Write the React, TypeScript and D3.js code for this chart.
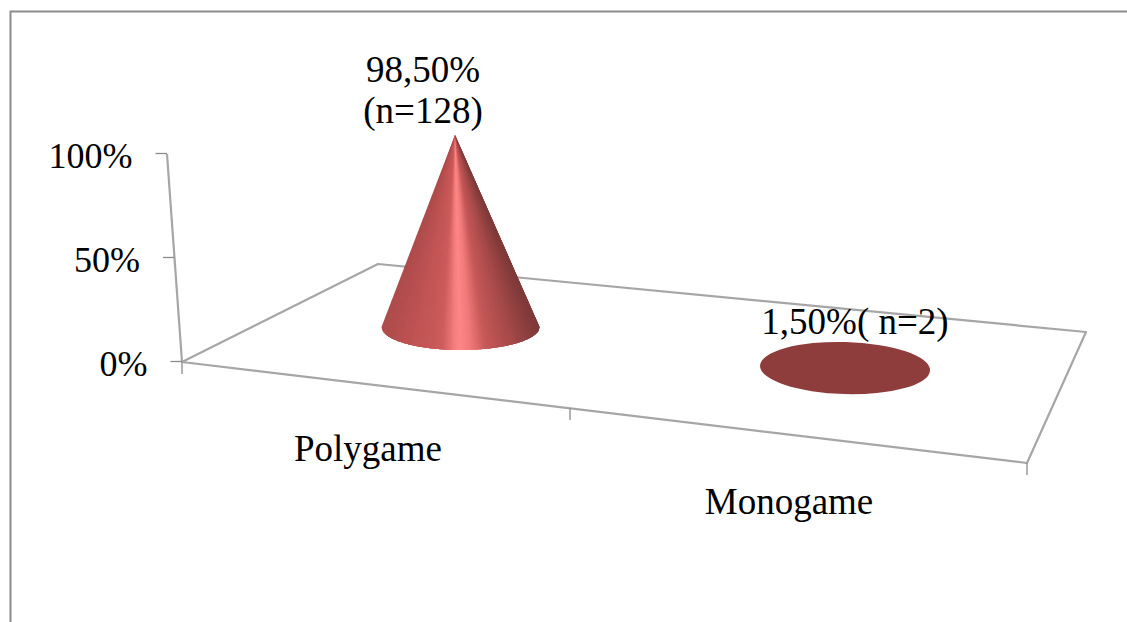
import React from "react";
import * as d3 from "d3";

// Household type survey results
const categories = ["Polygame", "Monogame"];
const shares = [98.5, 1.5];
const valueLabels = [["98,50%", "(n=128)"], ["1,50%( n=2)"]];
const valueTicks = [0, 50, 100];

const FONT = "'Liberation Serif', 'Times New Roman', serif";
const AXIS = "#a6a6a6";
const TICK = "#8a8a8a";

// Surface colour of the lit cone, left to right across its base
const shadeStops = [0, 0.2, 0.38, 0.46, 0.5, 0.56, 0.66, 0.84, 1];
const shadeColors = ["#ad4b4b", "#c05353", "#cc5b5b", "#f47c7c", "#ff8686", "#f27a7a", "#c65858", "#a34848", "#7c3838"];

export default function App() {
  const W = 1127, H = 622;

  // Value axis, leaning slightly to the left as it rises
  const axisY = d3.scaleLinear().domain([0, 100]).range([362, 154]);
  const axisX = d3.scaleLinear().domain([0, 100]).range([182, 167]);

  // Front edge of the floor, with a tick at each category boundary
  const edgeX = d3.scaleLinear().domain([0, 1, 2]).range([182, 570, 1027]);
  const edgeY = d3.scaleLinear().domain([0, 1, 2]).range([362, 408, 463]);

  // Cone base centres and sizes by category
  const baseX = d3.scaleLinear().domain([0, 1]).range([460.5, 845]);
  const baseY = d3.scaleLinear().domain([0, 1]).range([327, 369]);
  const baseRx = d3.scaleLinear().domain([0, 1]).range([79, 85]);
  const baseRy = d3.scaleLinear().domain([0, 1]).range([23, 26]);
  const coneHeight = d3.scaleLinear().domain([0, 100]).range([0, 195]);
  const shade = d3.scaleLinear<string>().domain(shadeStops).range(shadeColors).interpolate(d3.interpolateRgb);

  const floor = d3.line()([
    [edgeX(0), edgeY(0)],
    [378, 264],
    [1086, 332],
    [edgeX(2), edgeY(2)],
  ]) + "Z";

  // Overlapping wedges from the apex to the near rim give the lit surface;
  // each is painted over the previous one so no seams show between them.
  const wedges = (i: number) => {
    const cx = baseX(i), cy = baseY(i), rx = baseRx(i), ry = baseRy(i);
    const h = coneHeight(shares[i]);
    const ax = cx - 5.5 * (h / 192), ay = cy - h;
    const steps = 79;
    const rim = (t: number): [number, number] => {
      const n = Math.min(1, t) * 2 - 1;
      return [cx + rx * n, cy + ry * Math.sqrt(Math.max(0, 1 - n * n))];
    };
    return d3.range(steps).map((k) => {
      const t0 = k / steps;
      const span = d3.range(0, 13).map((j) => rim(t0 + (j / 12) * (4 / steps)));
      return { d: d3.line()([[ax, ay], ...span]) + "Z", color: shade((k + 0.5) / steps) };
    });
  };

  const textStyle = { fontFamily: FONT, fontSize: 37, fill: "#000" };
  const tickStyle = { ...textStyle, fontSize: 36 };

  return (
    <svg width={W} height={H} style={{ position: "absolute", left: 0, top: 0, background: "#fff" }}>
      {/* Chart frame, open on the right and at the bottom */}
      <path d={`M10.5,${H}V11.5H${W}`} fill="none" stroke="#8c8c8c" strokeWidth={2} />

      {/* Floor and value axis */}
      <path d={floor} fill="#fff" stroke={AXIS} strokeWidth={2.2} strokeLinejoin="round" />
      <line x1={axisX(0)} y1={axisY(0)} x2={axisX(100)} y2={axisY(100)} stroke={AXIS} strokeWidth={2.2} />

      {valueTicks.map((t) => (
        <g key={t}>
          <line x1={axisX(t) - 11.5} x2={axisX(t)} y1={axisY(t) - 0.5} y2={axisY(t) - 0.5} stroke={TICK} strokeWidth={1.3} />
          <text x={axisX(t) - 34.5} y={axisY(t) + 13.5} textAnchor="end" style={tickStyle}>{`${t}%`}</text>
        </g>
      ))}

      {[0, 1, 2].map((i) => (
        <line key={i} x1={edgeX(i)} x2={edgeX(i)} y1={edgeY(i)} y2={edgeY(i) + 12} stroke={TICK} strokeWidth={1.3} />
      ))}

      {/* Tall cone */}
      <g>
        {wedges(0).map((w, k) => (
          <path key={k} d={w.d} fill={w.color} />
        ))}
      </g>

      {/* Flat cone: its height is barely more than the base ellipse */}
      <ellipse
        cx={baseX(1)}
        cy={baseY(1) - coneHeight(shares[1]) / 3}
        rx={baseRx(1)}
        ry={baseRy(1)}
        fill="#8e3c3c"
        transform={`rotate(1.6 ${baseX(1)} ${baseY(1)})`}
      />

      {/* Category labels */}
      <text x={368} y={461} textAnchor="middle" style={textStyle}>{categories[0]}</text>
      <text x={789} y={514} textAnchor="middle" style={textStyle}>{categories[1]}</text>

      {/* Value labels */}
      <text x={423} y={82} textAnchor="middle" style={textStyle}>{valueLabels[0][0]}</text>
      <text x={423} y={123} textAnchor="middle" style={textStyle}>{valueLabels[0][1]}</text>
      <text x={855} y={334} textAnchor="middle" style={textStyle}>{valueLabels[1][0]}</text>
    </svg>
  );
}
